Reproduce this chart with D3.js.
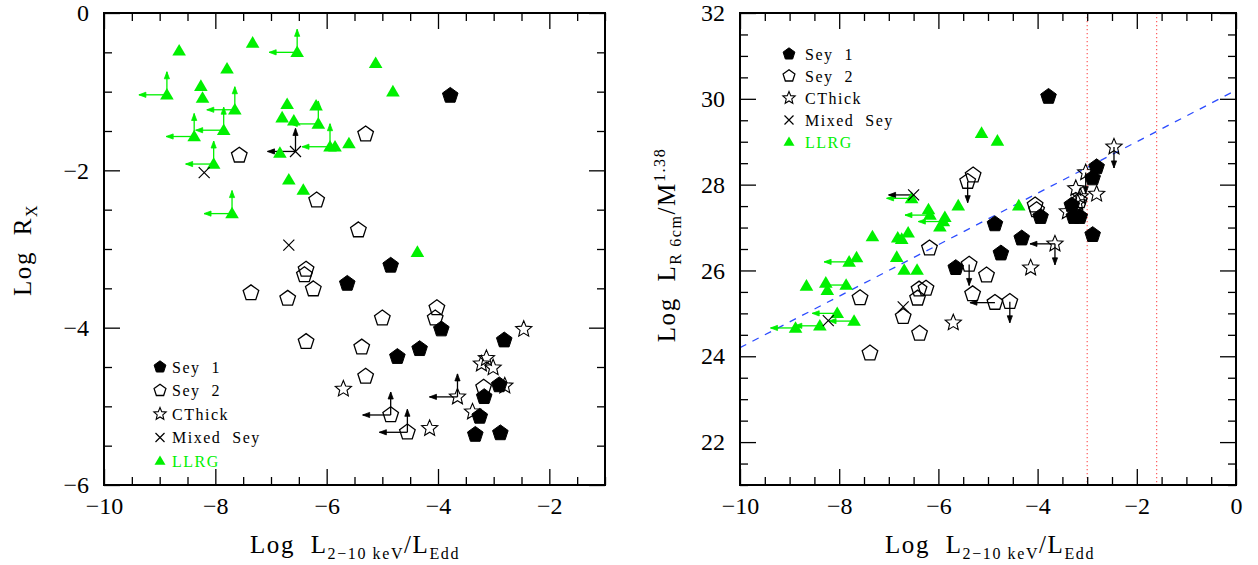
<!DOCTYPE html>
<html><head><meta charset="utf-8">
<script src="https://cdn.jsdelivr.net/npm/d3@7"></script>
<style>
html,body{margin:0;padding:0;background:#fff;}
svg{display:block;}
svg text{font-family:"Liberation Serif","Times New Roman",serif;}
</style></head><body>
<svg id="chart" width="1258" height="565"></svg>
<script>
// Points are [log L(2-10 keV)/L_Edd, y value, limit flags]
// flags: "u" lower limit in y (arrow up), "d" upper limit in y (arrow down), "l" upper limit in x (arrow left)

// ---- Left panel: Log R_X ----
const rxSey1 = [[-3.78,-1.05],[-4.85,-3.21],[-5.63,-3.44],[-3.94,-4.02],[-4.73,-4.37],[-4.33,-4.27],
  [-2.81,-4.16],[-2.90,-4.73],[-3.17,-4.88],[-3.25,-5.13],[-3.33,-5.36],[-2.88,-5.34]];
const rxSey2 = [[-7.57,-1.81],[-6.18,-2.38],[-5.30,-1.54],[-5.43,-2.76],[-6.37,-3.26],[-6.40,-3.33],
  [-7.36,-3.56],[-6.24,-3.51],[-6.70,-3.63],[-6.37,-4.18],[-4.02,-3.75],[-4.05,-3.88],[-5.00,-3.88],
  [-5.37,-4.25],[-5.30,-4.62],[-3.18,-4.76],[-4.85,-5.11,"ul"],[-4.55,-5.33,"ul"]];
const rxCThick = [[-2.46,-4.02],[-5.70,-4.78],[-3.13,-4.39],[-3.22,-4.46],[-3.01,-4.51],[-2.80,-4.74],
  [-3.65,-4.88,"ul"],[-4.15,-5.28],[-3.38,-5.07]];
const rxMixed = [[-6.56,-1.76,"ul"],[-8.20,-2.03],[-6.68,-2.95]];
const rxLLRG = [[-8.65,-0.48],[-7.33,-0.38],[-6.53,-0.50,"ul"],[-7.79,-0.71],[-8.87,-1.04,"ul"],
  [-8.26,-0.93],[-8.23,-1.08],[-7.65,-1.23,"ul"],[-7.85,-1.49,"ul"],[-8.38,-1.57,"ul"],[-8.03,-1.92,"ul"],
  [-7.70,-2.55,"ul"],[-6.71,-1.16],[-6.80,-1.33],[-6.59,-1.37],[-6.19,-1.18],[-6.15,-1.41,"ul"],
  [-6.84,-1.78],[-5.94,-1.70,"ul"],[-5.85,-1.70],[-6.68,-2.12],[-6.42,-2.25],[-5.12,-0.64],
  [-4.81,-1.00],[-5.60,-1.66],[-4.37,-3.04]];

// ---- Right panel: Log L_R(6cm)/M^1.38 ----
const lrSey1 = [[-3.78,30.05],[-2.81,28.41],[-2.89,28.15],[-3.31,27.52],[-3.27,27.25],[-3.15,27.25],
  [-3.94,27.25],[-2.89,26.83],[-4.86,27.08],[-4.32,26.75],[-4.74,26.40],[-5.65,26.06]];
const lrSey2 = [[-5.30,28.22],[-5.41,28.07,"d"],[-6.18,26.52],[-5.38,26.14,"d"],[-5.03,25.89],
  [-5.31,25.45],[-7.58,25.36],[-6.39,25.56],[-6.25,25.58],[-6.42,25.35],[-6.71,24.92],[-6.38,24.53],
  [-7.38,24.07],[-4.05,27.52],[-4.02,27.41],[-3.16,27.62],[-4.86,25.25,"l"],[-4.56,25.27,"d"]];
const lrCThick = [[-2.46,28.88,"d"],[-3.03,28.28,"d"],[-3.23,27.91],[-2.81,27.78],[-3.14,27.72],
  [-3.19,27.58],[-3.40,27.37],[-3.65,26.62,"ld"],[-4.14,26.06],[-5.70,24.78]];
const lrMixed = [[-6.50,27.76,"l"],[-6.71,25.15],[-8.22,24.83]];
const lrLLRG = [[-5.13,29.20],[-4.81,29.02],[-4.38,27.51],[-6.54,27.68,"l"],[-6.20,27.42],
  [-6.17,27.29,"l"],[-5.87,27.24],[-5.90,27.14,"l"],[-5.97,27.02],[-5.60,27.51],[-7.33,26.79],
  [-6.82,26.76],[-6.74,26.73],[-6.61,26.88],[-7.65,26.30],[-7.80,26.20,"l"],[-6.84,26.31],
  [-6.69,26.01],[-6.43,26.01],[-8.66,25.64],[-8.27,25.71],[-8.24,25.54],[-7.86,25.66,"l"],
  [-8.04,25.00,"l"],[-7.70,24.82,"l"],[-8.39,24.71,"l"],[-8.88,24.66,"l"]];

// fitted relation (dashed) and Eddington-ratio markers (dotted)
const fitLine = [[-10, 24.2], [0, 30.2]];
const vLines = [-3.0, -1.6];

// axis ticks
const xMajorL = [-10,-8,-6,-4,-2], yMajorL = [-6,-4,-2,0];
const xMajorR = [-10,-8,-6,-4,-2,0], yMajorR = [22,24,26,28,30,32];
const legendNames = ["Sey 1","Sey 2","CThick","Mixed Sey","LLRG"];

const FONT = '"Liberation Serif","Times New Roman",serif';
const svg = d3.select("#chart");
const GREEN = "#00f000";
const minus = d => d < 0 ? "\u2212" + (-d) : String(d);

function pentagon(r){
  const p = d3.path();
  for (let k = 0; k < 5; k++){
    const a = -Math.PI/2 + k*2*Math.PI/5;
    k ? p.lineTo(r*Math.cos(a), r*Math.sin(a)) : p.moveTo(r*Math.cos(a), r*Math.sin(a));
  }
  p.closePath(); return p.toString();
}
function star(r){
  const p = d3.path();
  for (let k = 0; k < 10; k++){
    const a = -Math.PI/2 + k*Math.PI/5, rr = k % 2 ? r*0.45 : r;
    k ? p.lineTo(rr*Math.cos(a), rr*Math.sin(a)) : p.moveTo(rr*Math.cos(a), rr*Math.sin(a));
  }
  p.closePath(); return p.toString();
}
const tri = s => `M0,${-s}L${s},${s*0.7}L${-s},${s*0.7}Z`;
const cross = s => `M${-s},${-s}L${s},${s}M${-s},${s}L${s},${-s}`;

const styles = {
  sey1:  {d: r => pentagon(r), fill:"#000", stroke:"#000", sw:1, size:8.2},
  sey2:  {d: r => pentagon(r), fill:"none", stroke:"#000", sw:1.3, size:8.2},
  thick: {d: r => star(r),     fill:"none", stroke:"#000", sw:1.1, size:8.5},
  mixed: {d: r => cross(r),    fill:"none", stroke:"#000", sw:1.2, size:5.5},
  llrg:  {d: r => tri(r),      fill:GREEN,  stroke:"none", sw:0,   size:6.8}
};
const legendKeys = ["sey1","sey2","thick","mixed","llrg"];
const legendSize = {sey1:6.2, sey2:6.2, thick:6.5, mixed:4.5, llrg:5.5};

function arrow(g, x, y, dx, dy, color){
  g.append("line").attr("x1",x).attr("y1",y).attr("x2",x+dx).attr("y2",y+dy)
    .attr("stroke",color).attr("stroke-width",1.3);
  const L = Math.hypot(dx,dy), ux = dx/L, uy = dy/L, h = 7, w = 2.6;
  const ex = x+dx, ey = y+dy;
  g.append("path")
    .attr("d",`M${ex-ux*h-uy*w},${ey-uy*h+ux*w}L${ex},${ey}L${ex-ux*h+uy*w},${ey-uy*h-ux*w}Z`)
    .attr("fill",color).attr("stroke",color).attr("stroke-width",0.8);
}

function frame(g, x, y, xMajor, yMajor, xStep, yStep, xPad, yPad){
  const [xa, xb] = x.domain(), [ya, yb] = y.domain();
  const xMinor = d3.range(xa, xb + 1e-9, xStep).filter(v => !xMajor.some(m => Math.abs(m-v) < 1e-6));
  const yMinor = d3.range(ya, yb + 1e-9, yStep).filter(v => !yMajor.some(m => Math.abs(m-v) < 1e-6));
  const [X0, X1] = x.range(), [Y0, Y1] = y.range();
  const put = (axisFn, scale, vals, size, tx, ty, labels, pad) => {
    const a = axisFn(scale).tickValues(vals).tickSize(size).tickSizeOuter(0)
      .tickFormat(labels ? minus : "").tickPadding(pad || 3);
    const sel = g.append("g").attr("transform",`translate(${tx},${ty})`).call(a);
    sel.attr("font-family", null).attr("font-size", null);
    sel.select(".domain").remove();
    sel.selectAll(".tick line").attr("stroke","#000").attr("stroke-width",1.3);
    sel.selectAll(".tick text").style("font-family",FONT).attr("font-size",24).attr("fill","#000");
    return sel;
  };
  put(d3.axisBottom, x, xMajor, -16, 0, Y0, true, xPad);
  put(d3.axisBottom, x, xMinor, -8, 0, Y0, false);
  put(d3.axisTop, x, xMajor, -16, 0, Y1, false);
  put(d3.axisTop, x, xMinor, -8, 0, Y1, false);
  put(d3.axisLeft, y, yMajor, -16, X0, 0, true, yPad);
  put(d3.axisLeft, y, yMinor, -8, X0, 0, false);
  put(d3.axisRight, y, yMajor, -16, X1, 0, false);
  put(d3.axisRight, y, yMinor, -8, X1, 0, false);
  g.append("rect").attr("x",X0).attr("y",Y1).attr("width",X1-X0).attr("height",Y0-Y1)
    .attr("fill","none").attr("stroke","#000").attr("stroke-width",2);
}

function points(g, x, y, sets, lens){
  const ga = g.append("g"), gm = g.append("g");
  sets.forEach(([data, key]) => {
    const st = styles[key], col = key === "llrg" ? GREEN : "#000";
    data.forEach(p => {
      const px = x(p[0]), py = y(p[1]), f = p[2] || "";
      if (f.includes("u")) arrow(ga, px, py, 0, -lens.u, col);
      if (f.includes("d")) arrow(ga, px, py, 0, lens.d, col);
      if (f.includes("l")) arrow(ga, px, py, -lens.l, 0, col);
      gm.append("path").attr("d", st.d(st.size)).attr("transform",`translate(${px},${py})`)
        .attr("fill", st.fill).attr("stroke", st.stroke).attr("stroke-width", st.sw)
        .attr("stroke-linejoin","miter");
    });
  });
}

function legend(g, mx, tx, y0, dy){
  legendKeys.forEach((k, i) => {
    const st = styles[k], yy = y0 + i*dy;
    g.append("path").attr("d", st.d(legendSize[k])).attr("transform",`translate(${mx},${yy})`)
      .attr("fill", st.fill).attr("stroke", st.stroke).attr("stroke-width", st.sw);
    g.append("text").attr("x",tx).attr("y",yy+5.5).attr("font-size",16).attr("letter-spacing",1.5)
      .style("font-family",FONT).style("white-space","pre")
      .attr("fill", k === "llrg" ? GREEN : "#000").text(legendNames[i].replace(" ", "\u00a0\u00a0"));
  });
}

function xTitle(g, cx, by){
  const t = g.append("text").attr("x",cx).attr("y",by).attr("text-anchor","middle")
    .style("font-family",FONT).attr("font-size",25).attr("letter-spacing",1.6);
  t.append("tspan").text("Log\u00a0\u00a0L");
  t.append("tspan").attr("font-size",16).attr("dy",6).text("2\u221210\u00a0keV");
  t.append("tspan").attr("dy",-6).text("/L");
  t.append("tspan").attr("font-size",16).attr("dy",6).text("Edd");
}

// ---- left panel ----
const xL = d3.scaleLinear().domain([-10,-1]).range([104,605]);
const yL = d3.scaleLinear().domain([-6,0]).range([485,13]);
const gL = svg.append("g");
frame(gL, xL, yL, xMajorL, yMajorL, 0.5, 0.5, 12, 15);
points(gL, xL, yL, [[rxLLRG,"llrg"],[rxSey2,"sey2"],[rxCThick,"thick"],[rxMixed,"mixed"],[rxSey1,"sey1"]],
  {u:23, d:21, l:28});
legend(gL, 160, 172, 367, 23.5);
xTitle(gL, 355, 553);
{
  const t = gL.append("text").attr("transform","translate(31,250) rotate(-90)").attr("text-anchor","middle")
    .style("font-family",FONT).attr("font-size",25).attr("letter-spacing",1.6);
  t.append("tspan").text("Log\u00a0\u00a0R");
  t.append("tspan").attr("font-size",16).attr("dy",6).text("X");
}

// ---- right panel ----
const xR = d3.scaleLinear().domain([-10,0]).range([740,1236]);
const yR = d3.scaleLinear().domain([21,32]).range([485,13]);
const gR = svg.append("g");
vLines.forEach(v => gR.append("line").attr("x1",xR(v)).attr("x2",xR(v)).attr("y1",yR(32)).attr("y2",yR(21))
  .attr("stroke","#ff5a5a").attr("stroke-width",1.2).attr("stroke-dasharray","1.2,2.8"));
gR.append("line").attr("x1",xR(fitLine[0][0])).attr("y1",yR(fitLine[0][1]))
  .attr("x2",xR(fitLine[1][0])).attr("y2",yR(fitLine[1][1]))
  .attr("stroke","#2c4cff").attr("stroke-width",1.3).attr("stroke-dasharray","7,7");
frame(gR, xR, yR, xMajorR, yMajorR, 0.5, 0.5, 12, 15);
points(gR, xR, yR, [[lrLLRG,"llrg"],[lrSey2,"sey2"],[lrCThick,"thick"],[lrMixed,"mixed"],[lrSey1,"sey1"]],
  {u:22, d:21, l:25});
legend(gR, 789, 805, 54, 22);
xTitle(gR, 990, 553);
{
  const t = gR.append("text").attr("transform","translate(675,245) rotate(-90)").attr("text-anchor","middle")
    .style("font-family",FONT).attr("font-size",25).attr("letter-spacing",1.6);
  t.append("tspan").text("Log\u00a0\u00a0L");
  t.append("tspan").attr("font-size",16).attr("dy",6).text("R\u00a06cm");
  t.append("tspan").attr("dy",-6).text("/M");
  t.append("tspan").attr("font-size",16).attr("dy",-10).text("1.38");
}
</script>
</body></html>
